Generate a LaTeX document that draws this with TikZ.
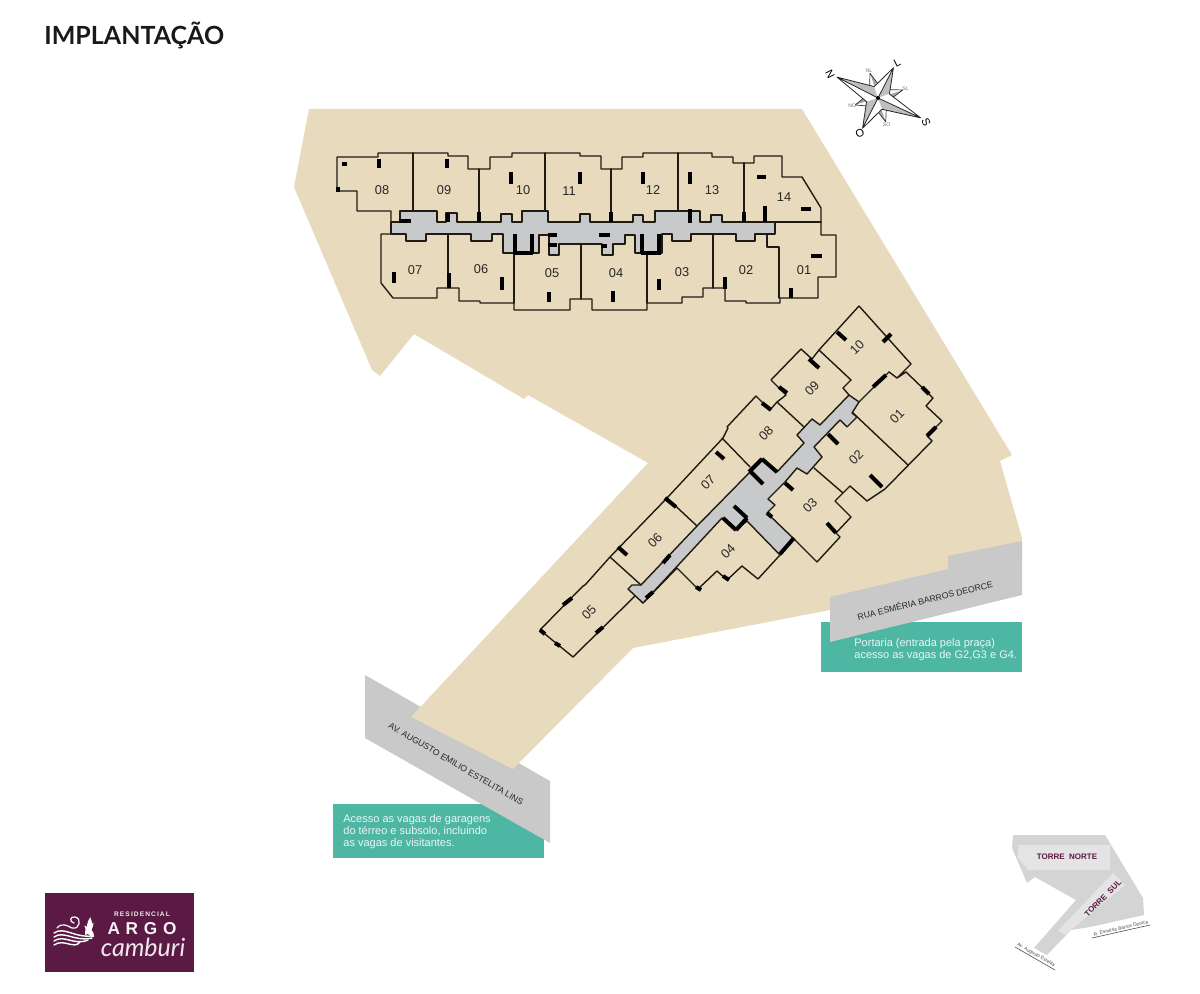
\documentclass[tikz,border=0pt]{standalone}
\usepackage{fontspec}
\setmainfont{Liberation Sans}
\newfontfamily\titlefont{Lato}
\definecolor{sitecol}{HTML}{E8DABD}
\definecolor{roadcol}{HTML}{C9C9C9}
\definecolor{hallcol}{HTML}{C8C9CB}
\definecolor{greencol}{HTML}{4DB7A3}
\definecolor{linecol}{HTML}{1F1B12}
\definecolor{logocol}{HTML}{5B1A44}
\definecolor{keycol}{HTML}{D4D4D4}
\definecolor{keylight}{HTML}{E4E4E4}
\tikzset{
  unitline/.style={draw=linecol,line width=.7pt},
  wall/.style={line width=2pt,black,line cap=butt},
  unitlabel/.style={font=\fontsize{6.4}{7}\selectfont,text=black!85,inner sep=0pt},
  roadlabel/.style={font=\fontsize{4.35}{5}\selectfont,text=black!85,inner sep=0pt},
  greenlabel/.style={font=\fontsize{5.5}{6}\selectfont,text=white!88!greencol,align=left,anchor=north west,inner sep=0pt},
  toplabel/.style={font=\fontsize{4}{5}\selectfont\bfseries,text=logocol,inner sep=0pt},
  windlabel/.style={font=\fontsize{5.5}{6}\selectfont,inner sep=0pt}
}
\begin{document}
\begin{tikzpicture}[x=.5pt,y=-.5pt,line join=round,line cap=round]
\useasboundingbox (0,0) rectangle (1200,994);
\node[anchor=west,inner sep=0pt,font=\titlefont\fontsize{12.5}{15}\selectfont\bfseries,text=black!90] (title) at (44,35) {IMPLANTAÇÃO};
\fill[greencol] (333,804) rectangle (544,858);
\fill[greencol] (821,622) rectangle (1022,672);
\fill[roadcol] (365,675)--(550,781)--(550,843)--(365,738)--cycle;
\fill[sitecol] (309,109)--(802,109)--(1012,455)--(1000,461)--(1022,538)--(1022,560)--(830,610)--(633,648)--(513,769)--(411,717)--(648,463)--(528,395)--(524,399)--(414,334)--(380,376)--(372,370)--(294,187)--cycle;
\fill[roadcol] (830,597)--(948,569)--(948,556)--(1022,541)--(1022,595)--(830,642)--cycle;
\node[greenlabel] (lblav) at (343,814) {Acesso as vagas de garagens\\do térreo e subsolo, incluindo\\as vagas de visitantes.};
\node[greenlabel] (lblrua) at (854,638) {Portaria (entrada pela praça)\\acesso as vagas de G2,G3 e G4.};
\node[roadlabel,rotate=-30.4] (roadav) at (456,764) {AV. AUGUSTO EMILIO ESTELITA LINS};
\node[roadlabel,rotate=13.7] (roadrua) at (925,600) {RUA ESMÉRIA BARROS DEORCE};
\draw[unitline] (337,157)--(378,157)--(378,153)--(448,153)--(448,156)--(468,156)--(468,169)--(490,169)--(490,157)--(512,157)--(512,153)--(580,153)--(580,156)--(601,156)--(601,169)--(622,169)--(622,157)--(643,157)--(643,153)--(712,153)--(712,157)--(733,157)--(733,163)--(754,163)--(754,156)--(782,156)--(782,177)--(802,177)--(821,208)--(821,235)--(836,235)--(836,277)--(818,277)--(818,298)--(780,298)--(780,303)--(746,303)--(746,301)--(725,301)--(725,288)--(703,288)--(703,297)--(682,297)--(682,303)--(647,303)--(647,310)--(592,310)--(592,299)--(570,299)--(570,310)--(514,310)--(514,303)--(480,303)--(480,301)--(459,301)--(459,288)--(437,288)--(437,298)--(393,298)--(381,283)--(381,234)--(391,234)--(391,211)--(357,211)--(357,191)--(337,191)--cycle;
\draw[unitline,fill=hallcol] (391,222)--(400,222)--(400,211)--(437,211)--(437,222)--(446,222)--(446,213)--(457,213)--(457,222)--(501,222)--(501,214)--(512,214)--(512,222)--(522,222)--(522,211)--(548,211)--(548,222)--(580,222)--(580,214)--(590,214)--(590,222)--(633,222)--(633,215)--(643,215)--(643,222)--(655,222)--(655,211)--(700,211)--(700,222)--(711,222)--(711,215)--(722,215)--(722,222)--(775,222)--(775,234)--(755,234)--(755,241)--(736,241)--(736,234)--(691,234)--(691,241)--(672,241)--(672,234)--(662,234)--(662,253)--(635,253)--(635,235)--(625,235)--(625,244)--(613,244)--(613,255)--(602,255)--(602,244)--(559,244)--(559,255)--(549,255)--(549,235)--(539,235)--(539,253)--(503,253)--(503,234)--(492,234)--(492,241)--(471,241)--(471,234)--(426,234)--(426,241)--(406,241)--(406,234)--(391,234)--cycle;
\foreach \xa/\ya/\xb/\yb in {413/153/413/211,479/169/479/222,545/153/545/211,611/169/611/222,678/153/678/211,744/163/744/222,775/222/821/222,448/234/448/288,514/253/514/303,581/244/581/299,647/253/647/303,713/234/713/288}\draw[unitline] (\xa,\ya)--(\xb,\yb);
\draw[unitline] (767,234)--(767,247)--(779,247)--(779,298);
\foreach \xa/\ya/\xb/\yb in {342/164/347/164,379/159/379/168,447/159/447/168,511/172/511/184,580/172/580/184,338/187/338/192,399/221/411/221,448/213/448/222,479/212/479/222,394/272/394/283,449/273/449/288,502/277/502/290,549/292/549/302,515/234/515/254,532/234/532/254,514/253/533/253,548/235/557/235,548/245/557/245,643/172/643/184,690/172/690/184,757/177/766/177,801/209/811/209,765/206/765/222,690/209/690/223,744/212/744/222,611/212/611/222,599/235/610/235,601/246/607/246,642/234/642/254,659/234/659/254,641/253/661/253,811/256/822/256,791/288/791/298,725/277/725/289,659/279/659/290,613/291/613/302}\draw[wall] (\xa,\ya)--(\xb,\yb);
\foreach \x/\y/\t in {382/190/08,444/190/09,523/190/10,569/191/11,653/190/12,712/190/13,784/197/14,415/270/07,481/269/06,552/273/05,616/273/04,682/272/03,746/270/02,804/270/01}\node[unitlabel] (north\t) at (\x,\y) {\t};
\draw[unitline] (859,306)--(911,364)--(897,378)--(889,372)--(897,378)--(906,372)--(933,398)--(926,406)--(942,421)--(927,436)--(932,441)--(885,489)--(867,501)--(850,486)--(835,501)--(851,517)--(836,533)--(840,537)--(817,562)--(793,538)--(780,555)--(758,579)--(742,566)--(727,580)--(717,571)--(698,589)--(677,568)--(643,603)--(636,595)--(573,657)--(540,630)--(583,586)--(585,585)--(610,557)--(667,498)--(723,438)--(728,428)--(727,427)--(756,396)--(770,410)--(777,402)--(786,395)--(771,380)--(801,349)--(812,359)--(819,350)--cycle;
\draw[unitline,fill=hallcol] (849,395)--(859,402)--(852,413)--(857,417)--(847,427)--(840,420)--(814,447)--(822,457)--(807,474)--(797,468)--(785,482)--(768,499)--(775,505)--(767,513)--(793,538)--(780,555)--(747,521)--(736,530)--(722,518)--(643,603)--(628,589)--(632,585)--(641,585)--(697,526)--(750,472)--(762,459)--(777,472)--(804,443)--(797,435)--(812,419)--(820,425)--cycle;
\foreach \xa/\ya/\xb/\yb in {819/350/851/380,851/380/843/388,843/388/849/395,889/372/859/402,853/413/908/465,777/402/804/427,722/438/750/467,667/498/697/526,610/557/641/585,814/468/843/493}\draw[unitline] (\xa,\ya)--(\xb,\yb);
\foreach \xa/\ya/\xb/\yb in {837/332/846/340,883/342/891/334,873/387/886/375,922/387/929/394,927/436/936/427,870/475/882/487,828/434/838/444,809/359/819/368,779/387/787/393,762/403/771/410,716/452/724/459,750/471/763/484,749/472/762/459,762/459/777/472,785/483/793/490,665/498/676/507,618/547/627/555,663/563/670/555,646/598/653/592,563/605/572/598,596/633/603/627,540/630/545/634,555/643/560/646,696/587/701/590,723/576/729/580,734/506/747/518,723/518/736/530,736/530/747/518,780/554/794/538,767/513/772/517,827/523/836/533}\draw[wall] (\xa,\ya)--(\xb,\yb);
\foreach \x/\y/\t in {857/347/10,897/416/01,812/388/09,766/433/08,708/482/07,655/540/06,589/612/05,728/551/04,810/505/03,856/457/02}\node[unitlabel,rotate=45] (south\t) at (\x,\y) {\t};
\begin{scope}[shift={(878,98)}]
\foreach \a/\r/\t in {252/26/NL,342/26/SL,72/25/SO,163/24/NO}{
  \fill[gray!70] (0,0)--(\a:\r)--(\a+40:10)--cycle;
  \fill[white] (0,0)--(\a:\r)--(\a-40:10)--cycle;
  \draw[line width=.35pt,black!80] (\a-40:10)--(\a:\r)--(\a+40:10);
  \node[font=\fontsize{2.6}{3}\selectfont,text=black!55,inner sep=0pt] (wind\t) at (\a:\r+3) {\t};
}
\foreach \a/\r in {207/46,297/34,25/47,117/34}{
  \fill[gray!50] (0,0)--(\a:\r)--(\a+45:12)--cycle;
  \fill[white] (0,0)--(\a:\r)--(\a-45:12)--cycle;
  \draw[line width=.4pt,black!85] (\a-45:12)--(\a:\r)--(\a+45:12) (0,0)--(\a:\r);
}
\fill (0,0) circle (1pt);
\end{scope}
\node[windlabel,rotate=-63] (windN) at (830,74) {N};
\node[windlabel,rotate=27] (windL) at (897,63) {L};
\node[windlabel,rotate=-65] (windS) at (926,122) {S};
\node[windlabel,rotate=25] (windO) at (860,133) {O};
\fill[keycol] (1013,835)--(1105,835)--(1143,898)--(1144,915)--(1090,927)--(1071,930)--(1047,955)--(1034,948)--(1076,900)--(1035,877)--(1027,883)--(1012,848)--cycle;
\fill[keylight] (1018,845)--(1110,845)--(1110,870)--(1028,870)--(1018,858)--cycle;
\fill[keylight] (1058,931)--(1113,873)--(1125,885)--(1065,935)--cycle;
\node[toplabel] (torren) at (1067,857) {TORRE\ \ NORTE};
\node[toplabel,rotate=45] (torres) at (1103,898) {TORRE\ \ SUL};
\coordinate (keya) at (1015,947);\coordinate (keyb) at (1055,970);
\coordinate (keyc) at (1092,938);\coordinate (keyd) at (1150,925);
\draw[line width=.3pt,black!70] (keya)--(keyb);
\draw[line width=.3pt,black!70] (keyc)--(keyd);
\node[font=\fontsize{2.4}{3}\selectfont,text=black!70,rotate=-30,inner sep=0pt] (keyav) at (1036,955) {Av. Augusto Estelita};
\node[font=\fontsize{2.4}{3}\selectfont,text=black!70,rotate=13,inner sep=0pt] (keyrua) at (1121,928) {R. Esméria Barros Deorce};
\fill[logocol] (45,893) rectangle (194,972);
\node[font=\fontsize{3.3}{4}\selectfont\bfseries,text=white!90!logocol,inner sep=0pt] (logoa) at (142,914) {R\,E\,S\,I\,D\,E\,N\,C\,I\,A\,L};
\node[font=\fontsize{8.6}{10}\selectfont\bfseries,text=white!95!logocol,inner sep=0pt] (logob) at (142,929) {A\,\,R\,\,G\,\,O};
\node[font=\titlefont\fontsize{12.5}{13}\selectfont\itshape,text=white!90!logocol,inner sep=0pt] (logoc) at (143,947) {camburi};
\foreach \d/\e in {0/93,4/92,8/88,12/80}\draw[white,line width=.7pt] (54,933+\d) .. controls (64,926+\d) and (74,938+\d) .. (\e,936+\d*.5);
\draw[white,line width=.6pt] (57,928) .. controls (62,922) and (68,926) .. (72,928) .. controls (80,930) and (82,918) .. (75,917) .. controls (70,916) and (69,922) .. (74,923);
\foreach \x/\y/\a in {89/932/-5,94/937/40,85/935/-35}\fill[white,shift={(\x,\y)},rotate=\a] (0,0) .. controls (-4,-4) and (-3,-9) .. (0,-15) .. controls (3,-9) and (4,-4) .. (0,0);
\end{tikzpicture}
\end{document}
